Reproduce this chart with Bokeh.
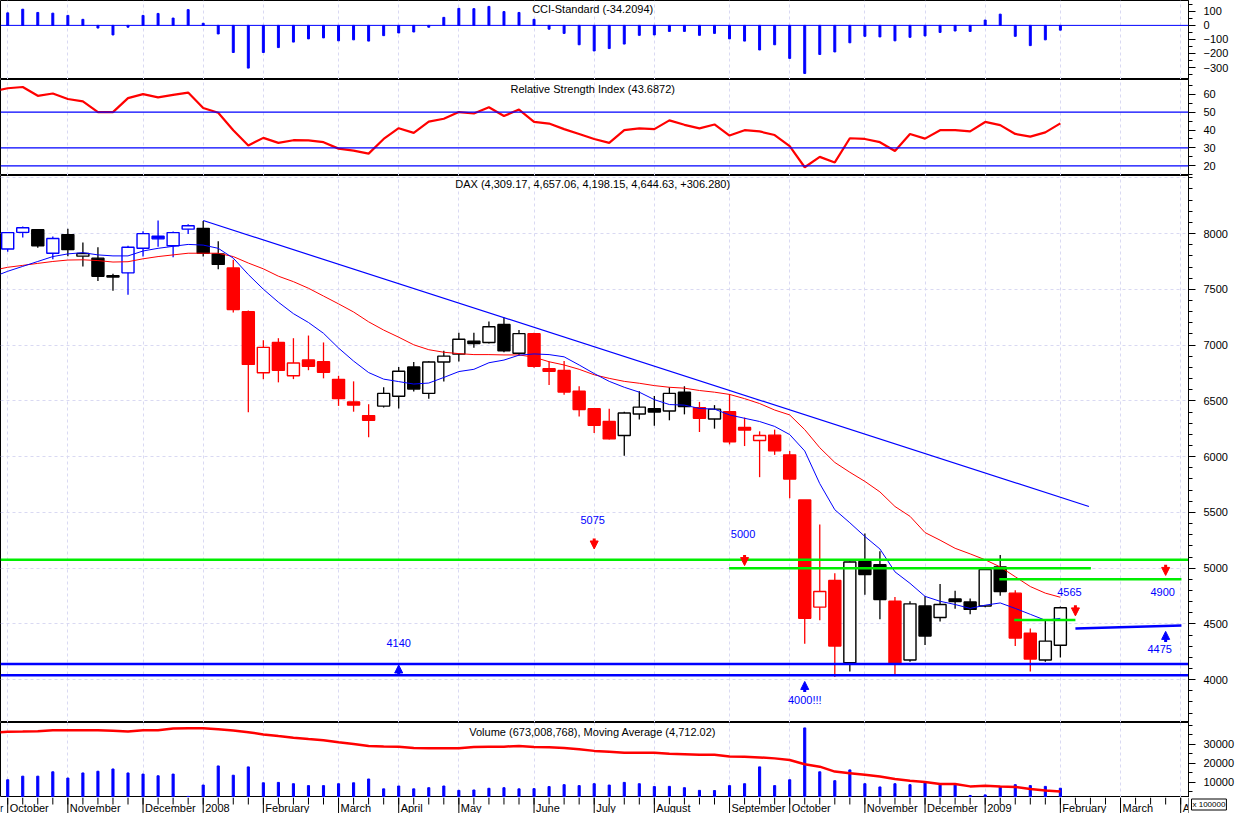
import numpy as np
from bokeh.plotting import figure
from bokeh.models import (Range1d, FixedTicker, Grid, Span, Label, ColumnDataSource,
                          Arrow, NormalHead)
from bokeh.layouts import column, row
from bokeh.embed import file_html
from bokeh.resources import INLINE
from bokeh.core.properties import value

# ---------------- data (weekly DAX, week 0 = 1 Oct 2007) ----------------
weeks = list(range(71))
line_weeks = list(range(-1, 71))

open_ = [7862, 8011, 8035, 7824, 7991, 7798, 7780, 7622, 7648, 7868,
         7976, 7891, 8040, 8047, 7818, 7692, 7299, 6752, 7024, 6725,
         6866, 6851, 6693, 6491, 6368, 6453, 6541, 6804, 6567, 6848,
         6919, 7036, 7024, 7185, 6927, 7103, 6789, 6772, 6587, 6429,
         6315, 6189, 6382, 6429, 6409, 6578, 6438, 6338, 6403, 6262,
         6145, 6193, 6016, 5611, 4651, 4890, 4152, 5060, 5031, 4703,
         4176, 4660, 4557, 4724, 4697, 4660, 5011, 4776, 4416, 4176, 4309.17]
high = [8015, 8064, 8040, 7974, 8044, 7921, 7877, 7640, 7891, 8020,
        8117, 8018, 8084, 8114, 7932, 7765, 7310, 7044, 7062, 7062,
        7086, 7024, 6725, 6675, 6470, 6622, 6804, 6848, 6855, 6950,
        7112, 7112, 7211, 7247, 7135, 7110, 6854, 6857, 6631, 6435,
        6429, 6403, 6587, 6543, 6622, 6631, 6491, 6462, 6561, 6350,
        6227, 6242, 6050, 5611, 5392, 4955, 5060, 5310, 5152, 4741,
        4703, 4747, 4858, 4797, 4727, 4995, 5119, 4803, 4460, 4528, 4657.06]
low = [7838, 7965, 7873, 7771, 7798, 7706, 7575, 7487, 7451, 7794,
       7882, 7789, 7996, 7794, 7680, 7293, 6397, 6695, 6666, 6695,
       6775, 6702, 6455, 6403, 6174, 6440, 6432, 6585, 6520, 6673,
       6854, 6977, 7015, 6936, 6906, 6798, 6643, 6555, 6359, 6212,
       6154, 6007, 6332, 6277, 6326, 6379, 6221, 6251, 6110, 6095,
       5816, 6016, 5626, 4322, 4533, 4023, 4073, 4761, 4542, 4044,
       4160, 4310, 4521, 4636, 4586, 4650, 4753, 4302, 4073, 4161, 4198.15]
close = [8009, 8053, 7891, 7956, 7856, 7821, 7618, 7610, 7877, 8000,
         7953, 8009, 8070, 7824, 7724, 7320, 6827, 6980, 6775, 6840,
         6810, 6757, 6520, 6462, 6326, 6567, 6766, 6607, 6848, 6901,
         7053, 7015, 7165, 6950, 7103, 6810, 6766, 6579, 6423, 6282,
         6159, 6391, 6444, 6400, 6567, 6449, 6344, 6426, 6133, 6238,
         6189, 6052, 5799, 4550, 4791, 4302, 5055, 4943, 4718, 4141,
         4680, 4392, 4674, 4700, 4630, 4987, 4791, 4374, 4185, 4346, 4644.63]
# candle signal class: B = bullish, K = neutral, R = bearish
signal = list("BBKBKKKKBBBBBKKRRRRRRRRRRKKKKKKKKKKRRRRRRKKKKKRKRRRRRRRRKKKRKKKKKKKRRKK")

ma_short = [7610, 7662, 7706, 7750, 7794, 7818, 7829, 7809, 7800, 7800,
            7844, 7868, 7886, 7903, 7897, 7868, 7780, 7633, 7501, 7385,
            7282, 7203, 7106, 6974, 6857, 6754, 6695, 6673, 6651, 6660,
            6710, 6763, 6783, 6842, 6866, 6910, 6921, 6915, 6895, 6822,
            6745, 6675, 6622, 6578, 6511, 6467, 6462, 6432, 6426, 6374,
            6344, 6315, 6271, 6198, 6051, 5758, 5524, 5407, 5284, 5172,
            4967, 4864, 4747, 4703, 4674, 4639, 4668, 4688, 4639, 4586,
            4533, 4550]
ma_long = [7670, 7698, 7715, 7733, 7750, 7763, 7765, 7758, 7745, 7748,
           7774, 7794, 7809, 7824, 7824, 7824, 7794, 7736, 7684, 7618,
           7569, 7510, 7440, 7370, 7297, 7209, 7135, 7071, 7003, 6959,
           6936, 6924, 6915, 6915, 6912, 6912, 6892, 6851, 6822, 6783,
           6734, 6702, 6675, 6658, 6637, 6622, 6614, 6593, 6578, 6558,
           6520, 6476, 6418, 6374, 6242, 6080, 5948, 5860, 5778, 5684,
           5553, 5465, 5319, 5251, 5178, 5128, 5075, 5011, 4923, 4835,
           4776, 4739]

rsi = [61.5, 63.3, 64.0, 59.1, 60.4, 57.3, 56.0, 50.0, 50.0, 57.8,
       60.0, 58.2, 59.6, 60.9, 52.3, 49.6, 39.9, 31.4, 35.6, 32.8,
       34.3, 34.2, 33.2, 29.6, 28.5, 26.8, 35.0, 41.0, 38.4, 44.7,
       46.3, 50.0, 49.2, 52.7, 47.8, 51.4, 44.5, 43.6, 40.5, 37.8,
       35.0, 32.8, 39.9, 40.9, 40.5, 45.4, 42.9, 40.9, 43.1, 36.9,
       39.9, 39.2, 37.2, 31.0, 19.2, 25.0, 21.9, 35.4, 35.0, 33.2,
       28.3, 37.8, 35.2, 39.9, 39.9, 39.2, 44.5, 42.7, 37.8, 36.3,
       38.7, 43.7]

cci = [89, 115, 92, 87, 71, 43, -19, -68, -13, 71,
       85, 52, 112, 15, -61, -193, -304, -193, -158, -119,
       -96, -89, -110, -103, -112, -73, -54, -47, -13, 57,
       121, 119, 135, 98, 92, 43, -27, -57, -138, -182,
       -165, -133, -71, -68, -43, -43, -71, -57, -96, -112,
       -175, -138, -235, -342, -207, -189, -124, -78, -82, -110,
       -85, -75, -50, -40, -43, 38, 80, -78, -144, -103, -34]

volume = [11200, 13100, 13100, 15400, 12100, 14800, 15700, 16900, 14800, 14200,
          13300, 14200, 2400, 8400, 18500, 13600, 18000, 9600, 9800, 9100,
          8100, 8100, 9100, 9600, 11600, 6400, 7900, 6400, 7000, 7900,
          5600, 5800, 6700, 7000, 6400, 6500, 7600, 8600, 8100, 9100,
          8400, 9800, 9100, 7600, 7700, 7000, 5600, 5500, 8100, 9100,
          18000, 8100, 11200, 38600, 15400, 10700, 16400, 9100, 7400, 9100,
          8600, 9500, 8400, 8400, 2900, 3200, 7400, 8600, 8100, 7700, 6730]
vol_ma = [36000, 36560, 36700, 36875, 37400, 37400, 37400, 37400, 37050, 36700,
          37400, 37400, 38280, 38450, 38450, 37900, 37225, 36350, 35150, 34270,
          33435, 32700, 32030, 30990, 30100, 29060, 28750, 28600, 28000, 27860,
          27860, 27860, 28540, 28700, 28700, 29060, 28540, 28370, 28020, 27340,
          26460, 25940, 25420, 25420, 25420, 24900, 24730, 24380, 24380, 23540,
          23370, 23020, 22500, 21610, 19375, 18125, 15520, 14690, 13800, 12920,
          11560, 10680, 10000, 8960, 8960, 7700, 8060, 7700, 7400, 6350,
          5470, 5000]

month_labels = ["September", "October", "November", "December", "2008", "February",
                "March", "April", "May", "June", "July", "August", "September",
                "October", "November", "December", "2009", "February", "March", "April"]
month_idx = [-4, 0, 4, 9, 13, 17, 22, 26, 30, 35, 39, 43, 48, 52, 57, 61, 65, 70, 74, 78]
volume_unit = "x 100000"

# drawn studies on the price panel
trend_w = [13.0, 71.9]
trend_p = [8117, 5553]
hline_price = [5075, 5000, 4900, 4535, 4140, 4040]
hline_from = [-0.48, 47.97, 65.94, 66.93, -0.48, -0.48]
hline_to = [78.52, 72.03, 78.05, 71.0, 78.52, 78.52]
hline_kind = ["res", "res", "res", "res", "sup", "sup"]
rise_w = [71.0, 78.05]
rise_p = [4460, 4485]
note_text = ["4140", "5075", "5000", "4000!!!", "4565", "4900", "4475"]
note_w = [26.0, 38.9, 48.9, 53.0, 70.6, 76.8, 76.6]
note_p = [4328, 5436, 5304, 3818, 4785, 4785, 4278]
arrow_w = [39, 49, 71, 77, 26, 53, 77]
arrow_tip = [5172, 5023, 4572, 4935, 4132, 3984, 4433]
arrow_dir = [-1, -1, -1, -1, 1, 1, 1]

# ---------------- styling ----------------
FONT = "Liberation Sans"
BLUE, RED, GREEN, BLACK = "#0000ff", "#ff0000", "#00ee00", "#000000"
GRID = "#d9d9f2"
X0, X1 = -0.479, 78.52
FW = 1188
RB = 46
xr = Range1d(X0, X1)
XMID = 38.9


def make_fig(h, yr, major, minor, labels=None):
    p = figure(frame_width=FW, frame_height=h, x_range=xr, y_range=yr,
               output_backend="svg", toolbar_location=None,
               x_axis_location=None, y_axis_location="right",
               min_border_left=0, min_border_right=RB,
               min_border_top=0, min_border_bottom=0)
    p.outline_line_color = BLACK
    p.outline_line_width = 1
    p.background_fill_color = "white"
    p.border_fill_color = "white"
    p.grid.visible = False
    p.add_layout(Grid(dimension=0, ticker=FixedTicker(ticks=month_idx),
                      grid_line_color=GRID, grid_line_dash="3 3"))
    ax = p.yaxis[0]
    ax.ticker = FixedTicker(ticks=major, minor_ticks=minor)
    if labels:
        ax.major_label_overrides = labels
    ax.axis_line_color = BLACK
    ax.major_tick_line_color = BLACK
    ax.minor_tick_line_color = BLACK
    ax.major_tick_out = 7
    ax.major_tick_in = 0
    ax.minor_tick_out = 4
    ax.minor_tick_in = 0
    ax.major_label_text_font = FONT
    ax.major_label_text_font_size = "11px"
    ax.major_label_text_color = BLACK
    ax.major_label_standoff = 8
    return p


def title(p, text, y):
    p.add_layout(Label(x=XMID, y=y, text=text, text_align="center",
                       text_baseline="middle", text_font=FONT,
                       text_font_size="11px", text_color=BLACK))


# ---- CCI ----
cci_p = make_fig(79, Range1d(-385, 177), [100, 0, -100, -200, -300],
                 list(range(-350, 200, 50)))
cci_p.add_layout(Span(location=0, dimension="width", line_color=BLUE, line_width=1))
cci_p.vbar(x=weeks, top=cci, bottom=0, width=0.13, color=BLUE)
title(cci_p, "CCI-Standard (-34.2094)", 115)

# ---- RSI ----
rsi_p = make_fig(96, Range1d(14.6, 68.2), [20, 30, 40, 50, 60],
                 list(range(15, 70, 5)))
for lv in (50, 30, 20):
    rsi_p.add_layout(Span(location=lv, dimension="width", line_color=BLUE, line_width=1.3))
rsi_p.line(line_weeks, rsi, line_color=RED, line_width=2.2)
title(rsi_p, "Relative Strength Index (43.6872)", 62.7)

# ---- Price ----
price_p = make_fig(547, Range1d(3616, 8521), list(range(4000, 8001, 500)),
                   list(range(3700, 8600, 100)))
price_p.add_layout(Grid(dimension=1, ticker=FixedTicker(ticks=list(range(4000, 8501, 500))),
                        grid_line_color=GRID, grid_line_dash="3 3"))

cmap = {"B": BLUE, "K": BLACK, "R": RED}
col = [cmap[s] for s in signal]
fill = [cmap[s] if c < o else "white" for s, o, c in zip(signal, open_, close)]
src = ColumnDataSource(dict(w=weeks, o=open_, h=high, l=low, c=close,
                            top=np.maximum(open_, close), bot=np.minimum(open_, close),
                            col=col, fill=fill))
price_p.segment(x0="w", y0="h", x1="w", y1="l", line_color="col", line_width=1.3, source=src)
price_p.vbar(x="w", top="top", bottom="bot", width=0.8, fill_color="fill",
             line_color="col", line_width=1.4, source=src)

price_p.line(line_weeks, ma_long, line_color=RED, line_width=1)
price_p.line(line_weeks, ma_short, line_color=BLUE, line_width=1)
price_p.line(trend_w, trend_p, line_color=BLUE, line_width=1.2)

kind_col = {"res": GREEN, "sup": BLUE}
price_p.segment(x0=hline_from, y0=hline_price, x1=hline_to, y1=hline_price,
                line_color=[kind_col[k] for k in hline_kind], line_width=2.5)
price_p.line(rise_w, rise_p, line_color=BLUE, line_width=2.5)

price_p.text(x=note_w, y=note_p, text=note_text, text_align="center",
             text_baseline="middle", text_color=BLUE, text_font=value(FONT),
             text_font_size="11px")

ARROW_LEN = 95
for w, tip, d in zip(arrow_w, arrow_tip, arrow_dir):
    c = BLUE if d > 0 else RED
    price_p.add_layout(Arrow(x_start=w, y_start=tip - d * ARROW_LEN, x_end=w, y_end=tip,
                             line_color=c, line_width=3,
                             end=NormalHead(size=8, fill_color=c, line_color=c, line_width=1)))
title(price_p, "DAX (4,309.17, 4,657.06, 4,198.15, 4,644.63, +306.280)", 8442)

# ---- Volume ----
vol_p = make_fig(75, Range1d(1823, 41458), [10000, 20000, 30000],
                 list(range(5000, 41000, 5000)))
vol_p.vbar(x=weeks, top=volume, bottom=0, width=0.14, color=BLUE)
vol_p.line(line_weeks, vol_ma, line_color=RED, line_width=2.5)
title(vol_p, "Volume (673,008,768), Moving Average (4,712.02)", 36350)

# ---- time axis strip ----
STRIP_H = 16
ax_p = figure(frame_width=FW, frame_height=STRIP_H, x_range=xr, y_range=Range1d(0, STRIP_H),
              output_backend="svg", toolbar_location=None,
              x_axis_location=None, y_axis_location=None,
              min_border_left=0, min_border_right=0, min_border_top=0, min_border_bottom=0)
ax_p.outline_line_color = None
ax_p.grid.visible = False
all_weeks = list(range(-4, 79))
ax_p.segment(x0=all_weeks, y0=STRIP_H, x1=all_weeks, y1=STRIP_H - 7,
             line_color=BLACK, line_width=1)
ax_p.segment(x0=month_idx, y0=STRIP_H, x1=month_idx, y1=0, line_color=BLACK, line_width=1)
ax_p.text(x=np.array(month_idx) + 0.13, y=5.5, text=month_labels, text_align="left",
          text_baseline="middle", text_color=BLACK, text_font=value(FONT),
          text_font_size="11px")

# small unit box under the volume scale
unit_p = figure(frame_width=RB, frame_height=STRIP_H, x_range=Range1d(0, RB),
                y_range=Range1d(0, STRIP_H), output_backend="svg", toolbar_location=None,
                x_axis_location=None, y_axis_location=None,
                min_border_left=0, min_border_right=0, min_border_top=0, min_border_bottom=0)
unit_p.outline_line_color = None
unit_p.grid.visible = False
unit_p.segment(x0=[0], y0=[STRIP_H], x1=[0], y1=[0], line_color=BLACK, line_width=1)
unit_p.text(x=[3], y=[STRIP_H - 1.5], text=[volume_unit], text_align="left",
            text_baseline="top", text_color=BLACK, text_font=value(FONT),
            text_font_size="8px", border_line_color=BLACK, border_line_width=1,
            background_fill_color="white", padding=1)

layout = column(cci_p, rsi_p, price_p, vol_p, row(ax_p, unit_p, spacing=0), spacing=0)
open("out.html", "w").write(file_html(layout, INLINE))
